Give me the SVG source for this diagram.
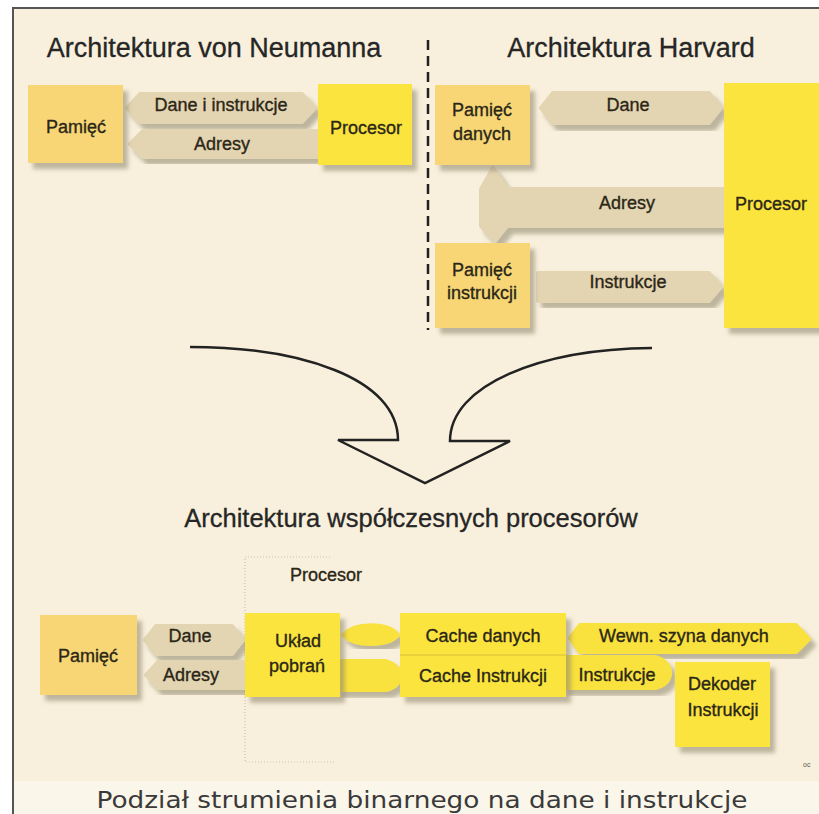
<svg xmlns="http://www.w3.org/2000/svg" width="819" height="814" viewBox="0 0 819 814">
  <defs>
    <filter id="sh" x="-15%" y="-15%" width="140%" height="140%">
      <feDropShadow dx="5" dy="6" stdDeviation="2" flood-color="#8c836a" flood-opacity="0.55"/>
    </filter>
    <style>
      .mem { fill: #f8d676; filter: url(#sh); }
      .cpu { fill: #fbe43c; filter: url(#sh); }
      .bus { fill: #e3d4b2; stroke: #e3d4b2; stroke-width: 4; stroke-linejoin: round; filter: url(#sh); }
      .ybus { fill: #f9e23e; stroke: #f9e23e; stroke-width: 4; stroke-linejoin: round; filter: url(#sh); }
      .lbl { font-family: "Liberation Sans", Arial, sans-serif; font-size: 18px; fill: #2b2717; stroke: #2b2717; stroke-width: 0.35; text-anchor: middle; }
      .title { font-family: "Liberation Sans", Arial, sans-serif; font-size: 27px; fill: #262626; stroke: #262626; stroke-width: 0.3; text-anchor: middle; }
    </style>
  </defs>

  <!-- page and frame -->
  <rect x="0" y="0" width="819" height="814" fill="#ffffff"/>
  <rect x="13" y="8" width="806" height="806" fill="#f8f0dc"/>
  <rect x="14" y="781" width="805" height="33" fill="#fbf6ea"/>
  <path d="M13,814 V8 H819" fill="none" stroke="#555" stroke-width="2"/>

  <!-- section titles -->
  <text class="title" x="214" y="57">Architektura von Neumanna</text>
  <text class="title" x="631" y="57">Architektura Harvard</text>
  <text class="title" x="411" y="527" style="font-size:25.5px">Architektura współczesnych procesorów</text>

  <!-- divider between the two classic architectures -->
  <line x1="428" y1="40" x2="428" y2="330" stroke="#222" stroke-width="2.5" stroke-dasharray="10,6"/>

  <!-- processor boundary (modern architecture) -->
  <path d="M330,557 H245 V762 H335" fill="none" stroke="#c9c1a9" stroke-width="1.2" stroke-dasharray="1,2"/>
  <text class="lbl" x="326" y="581">Procesor</text>

  <g id="connectors">
    <!-- von Neumann buses -->
    <path class="bus" d="M127,108 L140,94 L302,94 L315,108 L302,122 L140,122 Z"/>
    <text class="lbl" x="221" y="111">Dane i instrukcje</text>
    <path class="bus" d="M130,144 L143,131 L318,131 L318,157 L143,157 Z"/>
    <text class="lbl" x="222" y="150">Adresy</text>

    <!-- Harvard buses -->
    <path class="bus" d="M541,108 L553,93 L709,93 L721,108 L709,123 L553,123 Z"/>
    <text class="lbl" x="628" y="111">Dane</text>
    <path class="bus" d="M493,168 L507,189 L725,189 L725,226 L507,226 L495,241 L481,226 L481,189 Z"/>
    <text class="lbl" x="627" y="209">Adresy</text>
    <path class="bus" d="M538,273 L709,273 L721,287 L709,301 L538,301 Z"/>
    <text class="lbl" x="628" y="288">Instrukcje</text>

    <!-- modern architecture buses -->
    <path class="bus" d="M145,640 L156,626 L232,626 L243,640 L232,654 L156,654 Z"/>
    <text class="lbl" x="190" y="642">Dane</text>
    <path class="bus" d="M146,675 L158,662 L245,662 L245,688 L158,688 Z"/>
    <text class="lbl" x="191" y="681">Adresy</text>
    <path class="ybus" d="M343,635 C355,622 388,622 398,635 C388,647 355,647 343,635 Z"/>
    <path class="ybus" d="M338,661 L385,661 C396,664 400,670 400,676 C400,682 396,688 385,690 L338,690 Z"/>
    <path class="ybus" d="M570,638 L580,625 L796,625 L809,639 L796,652 L580,652 Z"/>
    <text class="lbl" x="684" y="642">Wewn. szyna danych</text>
    <path class="ybus" d="M564,657 L655,657 C665,660 670,666 670,673 C670,680 665,686 655,688 L564,688 Z"/>
    <text class="lbl" x="617" y="681">Instrukcje</text>

    <!-- transition arrow -->
    <path d="M190,347 C300,347 398,378 398,440 L338,440 L425,483 L510,441 L450,441 C450,385 540,349 652,348"
          fill="none" stroke="#222" stroke-width="2.5" stroke-linejoin="miter"/>
  </g>

  <!-- von Neumann nodes -->
  <g id="vn-memory">
    <rect class="mem" x="28" y="85" width="95" height="78"/>
    <text class="lbl" x="76" y="133">Pamięć</text>
  </g>
  <g id="vn-cpu">
    <rect class="cpu" x="318" y="84" width="94" height="81"/>
    <text class="lbl" x="366" y="134">Procesor</text>
  </g>

  <!-- Harvard nodes -->
  <g id="hv-data-memory">
    <rect class="mem" x="435" y="85" width="95" height="80"/>
    <text class="lbl" x="482" y="116">Pamięć</text>
    <text class="lbl" x="482" y="140">danych</text>
  </g>
  <g id="hv-instr-memory">
    <rect class="mem" x="435" y="243" width="95" height="85"/>
    <text class="lbl" x="482" y="276">Pamięć</text>
    <text class="lbl" x="482" y="299">instrukcji</text>
  </g>
  <g id="hv-cpu">
    <rect class="cpu" x="724" y="83" width="95" height="245"/>
    <text class="lbl" x="771" y="210">Procesor</text>
  </g>

  <!-- modern architecture nodes -->
  <g id="mod-memory">
    <rect class="mem" x="40" y="615" width="97" height="80"/>
    <text class="lbl" x="88" y="662">Pamięć</text>
  </g>
  <g id="mod-fetch">
    <rect class="cpu" x="245" y="613" width="95" height="84"/>
    <text class="lbl" x="298" y="647">Układ</text>
    <text class="lbl" x="297" y="672">pobrań</text>
  </g>
  <g id="mod-caches">
    <rect class="cpu" x="400" y="613" width="166" height="84"/>
    <line x1="400" y1="655" x2="566" y2="655" stroke="#d7bd3a" stroke-width="1.2"/>
    <text class="lbl" x="483" y="642">Cache danych</text>
    <text class="lbl" x="483" y="682">Cache Instrukcji</text>
  </g>
  <g id="mod-decoder">
    <rect class="cpu" x="675" y="662" width="95" height="85"/>
    <text class="lbl" x="722" y="690">Dekoder</text>
    <text class="lbl" x="723" y="716">Instrukcji</text>
  </g>

  <text x="803" y="767" font-family="Liberation Sans, Arial, sans-serif" font-size="7" fill="#555">oc</text>

  <!-- caption -->
  <text x="422" y="808" font-family="DejaVu Sans, Verdana, sans-serif" font-size="23.5" fill="#3a3a3a" text-anchor="middle" textLength="651" lengthAdjust="spacingAndGlyphs">Podział strumienia binarnego na dane i instrukcje</text>
</svg>
